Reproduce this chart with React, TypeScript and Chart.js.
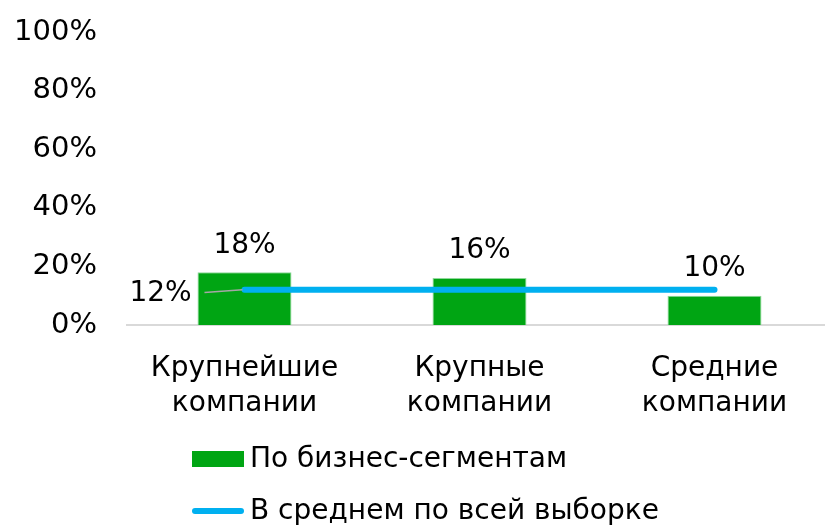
import React, { useEffect, useRef } from "react";
import { Chart, registerables } from "chart.js";

Chart.register(...registerables);

const categories: string[][] = [
  ["Крупнейшие", "компании"],
  ["Крупные", "компании"],
  ["Средние", "компании"],
];
const segmentValues: number[] = [18, 16, 10];
const averageValues: number[] = [12, 12, 12];
const yTicks: number[] = [0, 20, 40, 60, 80, 100];
const seriesNames: string[] = ["По бизнес-сегментам", "В среднем по всей выборке"];

const FONT = "'DejaVu Sans', Verdana, sans-serif";
const GREEN = "#00A513";
const BLUE = "#00B0F0";

export default function App() {
  const ref = useRef<HTMLCanvasElement | null>(null);
  useEffect(() => {
    if (!ref.current) return;
    const labelsPlugin = {
      id: "labelsPlugin",
      afterDatasetsDraw(chart: any) {
        const ctx = chart.ctx;
        ctx.save();
        ctx.font = `28px ${FONT}`;
        ctx.fillStyle = "#000";
        ctx.textAlign = "center";
        ctx.textBaseline = "middle";
        const barMeta = chart.getDatasetMeta(0);
        barMeta.data.forEach((el: any, i: number) => {
          ctx.fillText(`${segmentValues[i]}%`, el.x, el.y - 27);
        });
        const lineMeta = chart.getDatasetMeta(1);
        const p = lineMeta.data[0];
        if (p) {
          ctx.strokeStyle = "#a6a6a6";
          ctx.lineWidth = 1.5;
          ctx.beginPath();
          ctx.moveTo(p.x - 40, p.y + 2.7);
          ctx.lineTo(p.x - 2, p.y);
          ctx.stroke();
          ctx.fillText(`${averageValues[0]}%`, p.x - 84, p.y + 3.5);
        }
        ctx.restore();
      },
      afterDraw(chart: any) {
        const ctx = chart.ctx;
        ctx.save();
        ctx.font = `28px ${FONT}`;
        ctx.textAlign = "left";
        ctx.textBaseline = "middle";
        ctx.fillStyle = GREEN;
        ctx.fillRect(192, 451, 52, 16);
        ctx.fillStyle = "#000";
        ctx.fillText(seriesNames[0], 250, 460);
        ctx.strokeStyle = BLUE;
        ctx.lineWidth = 6;
        ctx.lineCap = "round";
        ctx.beginPath();
        ctx.moveTo(195, 511);
        ctx.lineTo(241, 511);
        ctx.stroke();
        ctx.fillText(seriesNames[1], 250, 512);
        ctx.restore();
      },
    };

    const chart = new Chart(ref.current, {
      type: "bar",
      data: {
        labels: categories,
        datasets: [
          {
            type: "bar",
            label: seriesNames[0],
            data: segmentValues,
            backgroundColor: GREEN,
            borderColor: "#8fd89a",
            borderWidth: 1,
            barPercentage: 0.4,
            categoryPercentage: 1,
            order: 2,
          },
          {
            type: "line",
            label: seriesNames[1],
            data: averageValues,
            borderColor: BLUE,
            borderWidth: 6,
            borderCapStyle: "round",
            pointRadius: 0,
            fill: false,
            order: 1,
          } as any,
        ],
      },
      options: {
        animation: false,
        responsive: false,
        layout: { padding: { top: 32, right: 18, bottom: 110, left: 0 } },
        plugins: { legend: { display: false }, tooltip: { enabled: false } },
        scales: {
          x: {
            grid: { display: false, drawTicks: false },
            border: { display: true, color: "#d9d9d9", width: 2 },
            ticks: {
              color: "#000",
              font: { family: FONT, size: 28, lineHeight: 1.25 },
              padding: 26,
              maxRotation: 0,
              autoSkip: false,
            },
            afterFit: (s: any) => {
              s.height = 92;
            },
          },
          y: {
            min: 0,
            max: 100,
            afterBuildTicks: (s: any) => {
              s.ticks = yTicks.map((v) => ({ value: v }));
            },
            grid: { display: false, drawTicks: false },
            border: { display: false },
            ticks: {
              color: "#000",
              font: { family: FONT, size: 29 },
              padding: 30,
              callback: (v: any) => `${v}%`,
            },
            afterFit: (s: any) => {
              s.width = 127;
              s.paddingTop = 0;
              s.paddingBottom = 0;
            },
          },
        },
      },
      plugins: [labelsPlugin],
    });
    return () => chart.destroy();
  }, []);

  return (
    <div
      style={{
        position: "fixed",
        left: 0,
        top: 0,
        width: 825,
        height: 527,
        overflow: "hidden",
        background: "#fff",
      }}
    >
      <canvas ref={ref} width={850} height={527} style={{ display: "block" }} />
    </div>
  );
}
